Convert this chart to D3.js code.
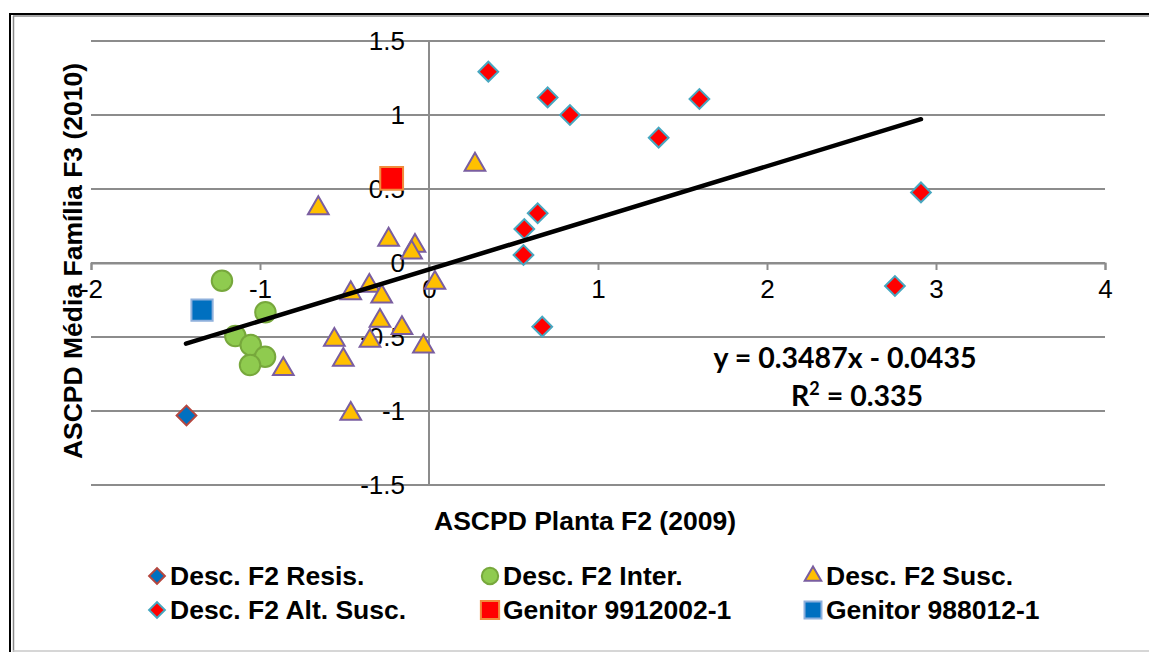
<!DOCTYPE html>
<html>
<head>
<meta charset="utf-8">
<script src="https://cdn.jsdelivr.net/npm/d3@7"></script>
<style>
  body { margin: 0; background: #fff; }
  svg { display: block; }
</style>
</head>
<body>
<script>
var w = 1149;
var h = 652;

// series data (x = ASCPD F2 2009, y = ASCPD F3 2010)
var resisX = [-1.435];
var resisY = [-1.03];

var interX = [-1.225, -0.968, -1.146, -1.055, -0.970, -1.059];
var interY = [-0.12, -0.333, -0.493, -0.554, -0.633, -0.689];

var suscX = [-0.862, -0.463, -0.353, -0.280, -0.290, -0.160, -0.560, -0.349, -0.033,
             -0.507, -0.463, 0.035, -0.655, -0.239, -0.083, -0.103, 0.272];
var suscY = [-0.707, -0.194, -0.144, -0.216, -0.381, -0.430, -0.509, -0.516, -0.554,
             -0.644, -1.009, -0.124, 0.380, 0.167, 0.126, 0.081, 0.674];

var altX = [0.351, 0.702, 0.834, 1.600, 1.359, 0.643, 0.564, 0.559, 0.670, 2.911, 2.757];
var altY = [1.293, 1.119, 1.000, 1.108, 0.847, 0.336, 0.230, 0.054, -0.430, 0.477, -0.155];

var gen1X = [-0.221];
var gen1Y = [0.572];

var gen2X = [-1.343];
var gen2Y = [-0.318];

var slope = 0.3487;
var intercept = -0.0435;
var trendRange = [-1.438, 2.911];

var xTicks = [-2, -1, 0, 1, 2, 3, 4];
var yTicks = [-1.5, -1, -0.5, 0, 0.5, 1, 1.5];

var legendNames = ["Desc. F2 Resis.", "Desc. F2 Inter.", "Desc. F2 Susc.",
                   "Desc. F2 Alt. Susc.", "Genitor 9912002-1", "Genitor 988012-1"];

var series = [
  { name: legendNames[0], xs: resisX, ys: resisY, shape: "diamond", fill: "#0070c0", stroke: "#b5473f" },
  { name: legendNames[1], xs: interX, ys: interY, shape: "circle", fill: "#8fcb4f", stroke: "#77a83c" },
  { name: legendNames[2], xs: suscX, ys: suscY, shape: "triangle", fill: "#ffc000", stroke: "#7a5ea0" },
  { name: legendNames[3], xs: altX, ys: altY, shape: "diamond", fill: "#ff0000", stroke: "#47a7c0" },
  { name: legendNames[4], xs: gen1X, ys: gen1Y, shape: "square", fill: "#ff0000", stroke: "#f08c3c" },
  { name: legendNames[5], xs: gen2X, ys: gen2Y, shape: "square2", fill: "#0070c0", stroke: "#8eb0dc" }
];

var svg = d3.select("body")
            .append("svg")
            .attr("width", w)
            .attr("height", h);

// outer frame (double line, cut off at right/bottom)
svg.append("line").attr("x1", 9).attr("x2", w).attr("y1", 14).attr("y2", 14)
   .attr("stroke", "#000").attr("stroke-width", 2);
svg.append("line").attr("x1", 10).attr("x2", 10).attr("y1", 13).attr("y2", h)
   .attr("stroke", "#000").attr("stroke-width", 2);
svg.append("line").attr("x1", 13).attr("x2", w).attr("y1", 16).attr("y2", 16)
   .attr("stroke", "#8a8a8a").attr("stroke-width", 1.5);
svg.append("line").attr("x1", 13.5).attr("x2", 13.5).attr("y1", 16).attr("y2", h)
   .attr("stroke", "#8a8a8a").attr("stroke-width", 1.5);
svg.append("line").attr("x1", 13).attr("x2", w).attr("y1", 651).attr("y2", 651)
   .attr("stroke", "#c8c8c8").attr("stroke-width", 1.5);

var x = d3.scaleLinear().domain([-2, 4]).range([91, 1105]);
var y = d3.scaleLinear().domain([-1.5, 1.5]).range([485, 41]);

var grid = "#8c8c8c";

// horizontal gridlines
svg.selectAll("line.grid")
   .data(yTicks)
   .enter()
   .append("line")
   .attr("class", "grid")
   .attr("x1", x(-2))
   .attr("x2", x(4))
   .attr("y1", function(d){ return y(d); })
   .attr("y2", function(d){ return y(d); })
   .attr("stroke", grid)
   .attr("stroke-width", 2);

// vertical axis line at x = 0
svg.append("line")
   .attr("x1", x(0)).attr("x2", x(0))
   .attr("y1", y(1.5)).attr("y2", y(-1.5))
   .attr("stroke", grid).attr("stroke-width", 2);

// x axis crosses at y = 0, ticks pointing down
var xAxis = d3.axisBottom(x).tickValues(xTicks).tickSize(7).tickPadding(10)
              .tickFormat(function(d){ return d; });
var gx = svg.append("g").attr("transform", "translate(0," + y(0) + ")").call(xAxis);
gx.select(".domain").attr("stroke", grid).attr("stroke-width", 2);
gx.selectAll(".tick line").attr("stroke", grid).attr("stroke-width", 2);
gx.selectAll("text")
  .attr("font-family", "'Liberation Sans', Arial, sans-serif")
  .attr("font-size", "26px")
  .attr("fill", "#000");

// y axis labels sitting left of the x = 0 line
var yAxis = d3.axisLeft(y).tickValues(yTicks).tickSize(0).tickPadding(24)
              .tickFormat(function(d){ return d; });
var gy = svg.append("g").attr("transform", "translate(" + x(0) + ",0)").call(yAxis);
gy.select(".domain").remove();
gy.selectAll("text")
  .attr("font-family", "'Liberation Sans', Arial, sans-serif")
  .attr("font-size", "26px")
  .attr("fill", "#000");

// marker paths
function markerPath(shape, scale) {
  var s = scale || 1;
  if (shape === "diamond") return d3.symbol().type(d3.symbolSquare).size(195 * s * s)();
  if (shape === "circle") return d3.symbol().type(d3.symbolCircle).size(330 * s * s)();
  if (shape === "triangle") return d3.symbol().type(d3.symbolTriangle).size(185 * s * s)();
  if (shape === "square") return d3.symbol().type(d3.symbolSquare).size(520 * s * s)();
  return d3.symbol().type(d3.symbolSquare).size(450 * s * s)();
}
function rot(shape) { return shape === "diamond" ? " rotate(45)" : ""; }

series.forEach(function(s) {
  var pts = s.xs.map(function(v, i){ return [v, s.ys[i]]; });
  svg.append("g")
     .selectAll("path")
     .data(pts)
     .enter()
     .append("path")
     .attr("d", markerPath(s.shape))
     .attr("transform", function(d){
        var dy = s.shape === "triangle" ? 1.5 : 0;
        return "translate(" + x(d[0]) + "," + (y(d[1]) + dy) + ")" + rot(s.shape);
     })
     .attr("fill", s.fill)
     .attr("stroke", s.stroke)
     .attr("stroke-width", 2);
});

// linear trendline
svg.append("line")
   .attr("x1", x(trendRange[0]))
   .attr("y1", y(slope * trendRange[0] + intercept))
   .attr("x2", x(trendRange[1]))
   .attr("y2", y(slope * trendRange[1] + intercept))
   .attr("stroke", "#000")
   .attr("stroke-width", 4.5)
   .attr("stroke-linecap", "round");

// trendline equation
svg.append("text")
   .attr("x", 845).attr("y", 368)
   .attr("text-anchor", "middle")
   .attr("font-family", "Lato, 'Open Sans', sans-serif")
   .attr("font-weight", "bold")
   .attr("font-size", "28.5px")
   .text("y = 0.3487x - 0.0435");
var r2 = svg.append("text")
   .attr("x", 857).attr("y", 406)
   .attr("text-anchor", "middle")
   .attr("font-family", "Lato, 'Open Sans', sans-serif")
   .attr("font-weight", "bold")
   .attr("font-size", "28.5px");
r2.append("tspan").text("R");
r2.append("tspan").attr("dy", -11).attr("font-size", "18px").text("2");
r2.append("tspan").attr("dy", 11).text(" = 0.335");

// axis titles
svg.append("text")
   .attr("x", 585).attr("y", 530)
   .attr("text-anchor", "middle")
   .attr("font-family", "'Liberation Sans', Arial, sans-serif")
   .attr("font-weight", "bold")
   .attr("font-size", "26.5px")
   .text("ASCPD Planta F2 (2009)");

svg.append("text")
   .attr("transform", "translate(82,261) rotate(-90)")
   .attr("text-anchor", "middle")
   .attr("font-family", "'Liberation Sans', Arial, sans-serif")
   .attr("font-weight", "bold")
   .attr("font-size", "26.5px")
   .text("ASCPD Média Família F3 (2010)");

// legend: 3 columns x 2 rows
var legX = [157, 490, 813];
var legY = [576, 610];
var leg = svg.selectAll("g.leg")
   .data(series)
   .enter()
   .append("g")
   .attr("class", "leg")
   .attr("transform", function(d, i){
      return "translate(" + legX[i % 3] + "," + legY[Math.floor(i / 3)] + ")";
   });
leg.append("path")
   .attr("d", function(d){ return markerPath(d.shape, 0.8); })
   .attr("transform", function(d){ return rot(d.shape); })
   .attr("fill", function(d){ return d.fill; })
   .attr("stroke", function(d){ return d.stroke; })
   .attr("stroke-width", 2);
leg.append("text")
   .attr("x", 13)
   .attr("y", 9)
   .attr("font-family", "'Liberation Sans', Arial, sans-serif")
   .attr("font-weight", "bold")
   .attr("font-size", "26.5px")
   .text(function(d){ return d.name; });
</script>
</body>
</html>
